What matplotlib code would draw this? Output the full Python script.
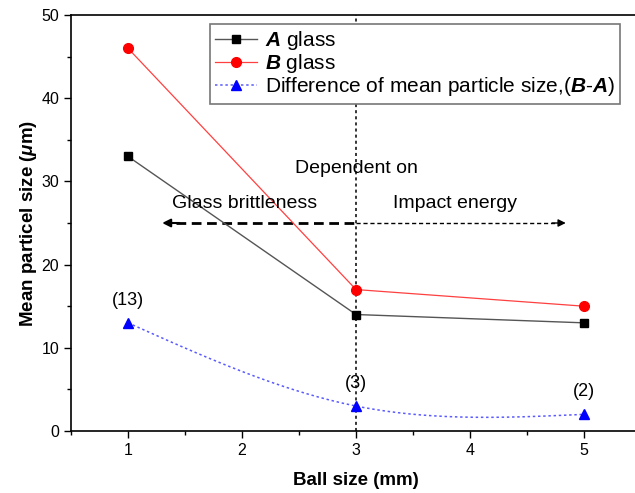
import numpy as np
import matplotlib
matplotlib.use("Agg")
import matplotlib.pyplot as plt
from matplotlib.ticker import MultipleLocator

plt.rcParams['font.family'] = ['Liberation Sans', 'DejaVu Sans']
plt.rcParams['mathtext.fontset'] = 'custom'
plt.rcParams['mathtext.rm'] = 'Liberation Sans'
plt.rcParams['mathtext.it'] = 'Liberation Sans:italic'
plt.rcParams['mathtext.bf'] = 'Liberation Sans:bold'
plt.rcParams['mathtext.bfit'] = 'Liberation Sans:bold:italic'

ball_size = [1, 3, 5]
glass_a = [33, 14, 13]
glass_b = [46, 17, 15]
diff_ba = [13, 3, 2]
diff_labels = ["(13)", "(3)", "(2)"]


def natural_spline(x, y, n=200):
    # natural cubic spline through the points, for the smooth B-A curve
    x = np.asarray(x, float)
    y = np.asarray(y, float)
    k = len(x)
    h = np.diff(x)
    A = np.zeros((k, k))
    r = np.zeros(k)
    A[0, 0] = A[-1, -1] = 1
    for i in range(1, k - 1):
        A[i, i - 1] = h[i - 1]
        A[i, i] = 2 * (h[i - 1] + h[i])
        A[i, i + 1] = h[i]
        r[i] = 6 * ((y[i + 1] - y[i]) / h[i] - (y[i] - y[i - 1]) / h[i - 1])
    M = np.linalg.solve(A, r)
    xs = np.linspace(x[0], x[-1], n)
    idx = np.clip(np.searchsorted(x, xs) - 1, 0, k - 2)
    x0, x1 = x[idx], x[idx + 1]
    hh = x1 - x0
    t0 = x1 - xs
    t1 = xs - x0
    ys = (M[idx] * t0**3 + M[idx + 1] * t1**3) / (6 * hh) \
        + (y[idx] / hh - M[idx] * hh / 6) * t0 \
        + (y[idx + 1] / hh - M[idx + 1] * hh / 6) * t1
    return xs, ys


fig = plt.figure(figsize=(6.35, 4.93), dpi=100)
ax = fig.add_axes([71 / 635, 62 / 493, 570 / 635, 416 / 493])

# boundary between the two regimes at 3 mm
ax.axvline(3, color='black', linestyle=(0, (2, 2)), lw=1.1, zorder=1)

ax.plot(ball_size, glass_a, color='#555555', lw=1, marker='s', ms=5.5,
        mfc='black', mec='black', label=r'$\mathbfit{A}$ glass', zorder=3)
ax.plot(ball_size, glass_b, color='#ff4040', lw=0.9, marker='o', ms=7,
        mfc='red', mec='red', label=r'$\mathbfit{B}$ glass', zorder=3)

xs, ys = natural_spline(ball_size, diff_ba)
ax.plot(xs, ys, color='#5a5aff', lw=1.1, linestyle=(0, (1.6, 1.8)), zorder=2)
ax.plot(ball_size, diff_ba, linestyle='none', marker='^', ms=7,
        color='blue', zorder=3)
ax.plot([], [], color='#5a5aff', lw=1.1, linestyle=(0, (1.6, 1.8)), marker='^',
        ms=7, mfc='blue', mec='blue',
        label=r'Difference of mean particle size,($\mathbfit{B}$-$\mathbfit{A}$)')

for xv, yv, lab in zip(ball_size, diff_ba, diff_labels):
    ax.text(xv, yv + 1.7, lab, ha='center', va='bottom', fontsize=13)

# regime arrows
ax.plot([1.42, 3], [25, 25], color='black', lw=2, linestyle=(0, (3.5, 2)))
ax.annotate('', xy=(1.3, 25), xytext=(1.45, 25),
            arrowprops=dict(arrowstyle='-|>', color='black', lw=1.5,
                            mutation_scale=12, shrinkA=0, shrinkB=0))
ax.plot([3, 4.75], [25, 25], color='black', lw=1, linestyle=(0, (3, 2)))
ax.annotate('', xy=(4.84, 25), xytext=(4.72, 25),
            arrowprops=dict(arrowstyle='-|>', color='black', lw=1,
                            mutation_scale=11, shrinkA=0, shrinkB=0))
ax.text(3, 31.6, 'Dependent on', ha='center', va='center', fontsize=14)
ax.text(2.02, 27.3, 'Glass brittleness', ha='center', va='center', fontsize=14)
ax.text(3.87, 27.3, 'Impact energy', ha='center', va='center', fontsize=14)

ax.set_xlim(0.5, 5.5)
ax.set_ylim(0, 50)
ax.xaxis.set_major_locator(MultipleLocator(1))
ax.xaxis.set_minor_locator(MultipleLocator(0.5))
ax.yaxis.set_major_locator(MultipleLocator(10))
ax.yaxis.set_minor_locator(MultipleLocator(5))
ax.tick_params(which='major', direction='out', length=5, width=1, labelsize=11.5)
ax.tick_params(which='minor', direction='out', length=3, width=1)
for s in ax.spines.values():
    s.set_linewidth(1.2)

ax.set_xlabel('Ball size (mm)', fontsize=13.5, fontweight='bold', labelpad=10)
ax.set_ylabel(r'Mean particel size ($\mathbfit{\mu}$m)', fontsize=13.5,
              fontweight='bold', labelpad=2)

leg = ax.legend(loc='upper left', bbox_to_anchor=(0.244, 0.978), fontsize=15,
                frameon=True, fancybox=False, framealpha=1, handlelength=2.0,
                borderpad=0.25, labelspacing=0.0, handletextpad=0.4,
                borderaxespad=0)
leg.get_frame().set_edgecolor('#777777')
leg.get_frame().set_linewidth(1.2)

fig.savefig('out.png', dpi=100)
